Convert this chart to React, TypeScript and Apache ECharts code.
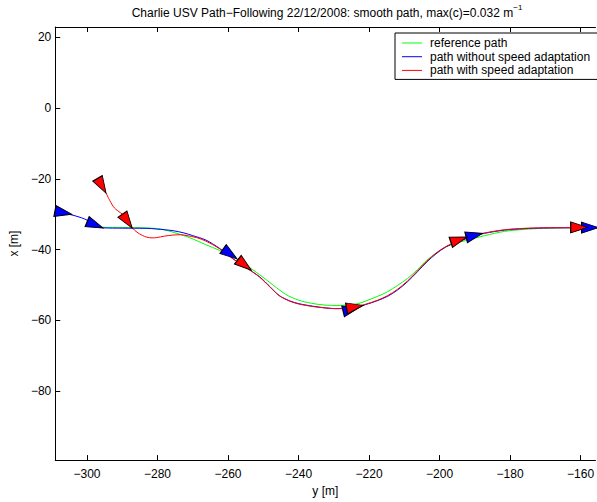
import React, { useEffect, useRef } from "react";
import * as echarts from "echarts";

// ---- data ----
const X_MIN = -309;
const X_MAX = -155.8;
const Y_MIN = -99.53;
const Y_MAX = 22.93;

const xTicks = [-300, -280, -260, -240, -220, -200, -180, -160];
const yTicks = [-80, -60, -40, -20, 0, 20];

const seriesNames = [
  "reference path",
  "path without speed adaptation",
  "path with speed adaptation",
];

const referencePath: number[][] = [
  [-296.1, -33.7], [-290, -33.75], [-283.0, -33.9], [-279, -34.2], [-275.6, -35.1],
  [-271, -36.6], [-266.3, -38.6], [-262.5, -40.2], [-258.6, -42.1], [-255, -44.3],
  [-251.05, -47.1], [-247, -50.2], [-243.6, -52.7], [-240, -54.3], [-236.3, -55.2],
  [-232.5, -55.7], [-228.8, -55.8], [-225.5, -55.6], [-223.1, -55.3], [-220.3, -54.3],
  [-217.5, -53.2], [-214.7, -51.9], [-212, -50.2], [-209.1, -48.2], [-206.3, -45.7],
  [-203.6, -43.0], [-201, -41.0], [-198.3, -39.3], [-195.5, -38.2], [-192.6, -37.45],
  [-187.2, -36.06], [-181.6, -34.86], [-176.1, -34.3], [-170.6, -34.0], [-163.0, -33.8],
  [-155, -33.7],
];

const pathWithout: number[][] = [
  [-311, -29.3], [-309.1, -29.6], [-305.2, -30.0], [-301.6, -31.0], [-299.7, -31.8],
  [-297.5, -32.9], [-295.5, -33.85], [-290, -33.95], [-283.0, -34.0], [-280.2, -34.2],
  [-275.6, -34.66], [-272.5, -35.3], [-270.0, -36.06], [-266.3, -37.3], [-262.5, -39.6],
  [-258.6, -42.6], [-255, -45.0], [-251.05, -47.7], [-248, -50.6], [-245.5, -53.0],
  [-242.5, -54.5], [-239.9, -55.3], [-236, -56.0], [-232.4, -56.5], [-229.5, -56.7],
  [-226.9, -56.7], [-224, -56.3], [-221.1, -55.6], [-217.5, -54.4], [-214.7, -53.2],
  [-212, -51.5], [-209.1, -49.1], [-206.3, -46.3], [-203.6, -43.5], [-201, -41.2],
  [-198.3, -39.3], [-195.5, -38.0], [-192.6, -37.0], [-190, -36.1], [-187.2, -35.4],
  [-181.6, -34.5], [-176.1, -34.1], [-170.6, -33.9], [-163.0, -33.85], [-155, -33.8],
];

const pathWith: number[][] = [
  [-294.6, -24.0], [-293.5, -26.2], [-292.25, -28.2], [-290.5, -29.6], [-289.0, -30.7],
  [-288, -32.2], [-287.2, -33.8], [-285.8, -35.1], [-284.3, -36.0], [-283.0, -36.5],
  [-281.5, -36.7], [-280.2, -36.6], [-278, -36.2], [-275.6, -35.9], [-273.5, -35.8],
  [-271.9, -36.0], [-269, -36.6], [-266.3, -37.6], [-262.5, -39.7], [-258.6, -42.6],
  [-255, -45.0], [-251.05, -47.8], [-248, -50.7], [-245.5, -53.0], [-242.5, -54.6],
  [-239.9, -55.4], [-236, -56.1], [-232.4, -56.5], [-229.5, -56.7], [-226.9, -56.6],
  [-224, -56.2], [-221.1, -55.5], [-217.5, -54.3], [-214.7, -53.0], [-212, -51.3],
  [-209.1, -48.9], [-206.3, -46.1], [-203.6, -43.3], [-201, -41.0], [-198.3, -39.2],
  [-195.5, -37.9], [-192.6, -36.9], [-190, -36.0], [-187.2, -35.3], [-181.6, -34.4],
  [-176.1, -34.0], [-170.6, -33.85], [-163.0, -33.8], [-158, -33.75],
];

// arrow markers: [x, y, heading in degrees]
const blueArrows: number[][] = [
  [-306.7, -29.55, -11], [-297.7, -33.0, -22], [-259.4, -41.25, -35],
  [-225.0, -56.9, 14], [-190.1, -35.97, 14], [-157.3, -33.8, 0],
];
const redArrows: number[][] = [
  [-295.8, -21.95, -60], [-288.55, -31.97, -55], [-255.3, -44.35, -38],
  [-224.0, -56.2, 10], [-194.5, -37.2, 18], [-160.4, -33.75, 0],
];

const FONT = "'Liberation Sans', Arial, Helvetica, sans-serif";
const minus = (v: number) => String(v).replace("-", "\u2212");

export default function App() {
  const ref = useRef<HTMLDivElement>(null);
  useEffect(() => {
    if (!ref.current) return;
    const chart = echarts.init(ref.current, undefined, { renderer: "svg" });
    const axisLine = { show: true, onZero: false, lineStyle: { color: "#000", width: 1 } };
    const labelStyle = { color: "#000", fontSize: 12, fontFamily: FONT };
    const arrowData = (arr: number[][]) =>
      arr.map((a) => ({ value: [a[0], a[1]], symbolRotate: a[2] - 90 }));
    chart.setOption({
      animation: false,
      backgroundColor: "#fff",
      grid: { left: 51, top: 27, width: 552, height: 439, containLabel: false },
      graphic: [
        {
          type: "text",
          x: 327,
          y: 13,
          style: {
            text: "Charlie USV Path\u2212Following 22/12/2008: smooth path, max(c)=0.032 m{sup|\u22121}",
            fontSize: 12,
            fontFamily: FONT,
            fill: "#000",
            align: "center",
            verticalAlign: "middle",
            rich: {
              sup: { fontSize: 8, fontFamily: FONT, fill: "#000", padding: [0, 0, 11, 0] },
            },
          },
        },
      ],
      legend: {
        orient: "vertical",
        left: 395,
        top: 33,
        icon: "rect",
        itemWidth: 20,
        itemHeight: 1,
        itemGap: 1.7,
        padding: [4, 40, 3, 7],
        borderColor: "#000",
        borderWidth: 1,
        borderRadius: 0,
        backgroundColor: "#fff",
        selectedMode: false,
        textStyle: { ...labelStyle, lineHeight: 12, padding: [0, 0, 0, 3] },
        data: seriesNames,
      },
      xAxis: [
        {
          type: "value",
          min: X_MIN,
          max: X_MAX,
          position: "bottom",
          axisLine,
          axisTick: { show: true, inside: true, length: 5, customValues: xTicks, lineStyle: { color: "#000" } },
          axisLabel: { ...labelStyle, customValues: xTicks, formatter: minus, margin: 8 },
          splitLine: { show: false },
          name: "y [m]",
          nameLocation: "middle",
          nameGap: 24,
          nameTextStyle: labelStyle,
        },
        {
          type: "value",
          min: X_MIN,
          max: X_MAX,
          position: "top",
          axisLine,
          axisTick: { show: true, inside: true, length: 5, customValues: xTicks, lineStyle: { color: "#000" } },
          axisLabel: { show: false },
          splitLine: { show: false },
        },
      ],
      yAxis: [
        {
          type: "value",
          min: Y_MIN,
          max: Y_MAX,
          position: "left",
          axisLine,
          axisTick: { show: true, inside: true, length: 5, customValues: yTicks, lineStyle: { color: "#000" } },
          axisLabel: { ...labelStyle, customValues: yTicks, formatter: minus, margin: 4 },
          splitLine: { show: false },
          name: "x [m]",
          nameLocation: "middle",
          nameGap: 24,
          nameRotate: 90,
          nameTextStyle: labelStyle,
        },
      ],
      series: [
        {
          name: seriesNames[0],
          type: "line",
          data: referencePath,
          symbol: "none",
          smooth: 0.3,
          lineStyle: { color: "#00ff00", width: 1 },
          itemStyle: { color: "#00ff00" },
        },
        {
          name: seriesNames[1],
          type: "line",
          data: pathWithout,
          symbol: "none",
          smooth: 0.3,
          lineStyle: { color: "#0000ff", width: 1 },
          itemStyle: { color: "#0000ff" },
        },
        {
          name: seriesNames[2],
          type: "line",
          data: pathWith,
          symbol: "none",
          smooth: 0.3,
          lineStyle: { color: "#ff0000", width: 1 },
          itemStyle: { color: "#ff0000" },
        },
        {
          name: "blue arrows",
          type: "scatter",
          data: arrowData(blueArrows),
          symbol: "triangle",
          symbolSize: [11, 17],
          itemStyle: { color: "#0000ff", borderColor: "#000", borderWidth: 1, opacity: 1 },
          z: 3,
        },
        {
          name: "red arrows",
          type: "scatter",
          data: arrowData(redArrows),
          symbol: "triangle",
          symbolSize: [11, 17],
          itemStyle: { color: "#ff0000", borderColor: "#000", borderWidth: 1, opacity: 1 },
          z: 4,
        },
      ],
    });
    return () => chart.dispose();
  }, []);
  return (
    <div
      ref={ref}
      style={{ position: "absolute", left: 0, top: 0, width: 597, height: 502, background: "#fff" }}
    />
  );
}
